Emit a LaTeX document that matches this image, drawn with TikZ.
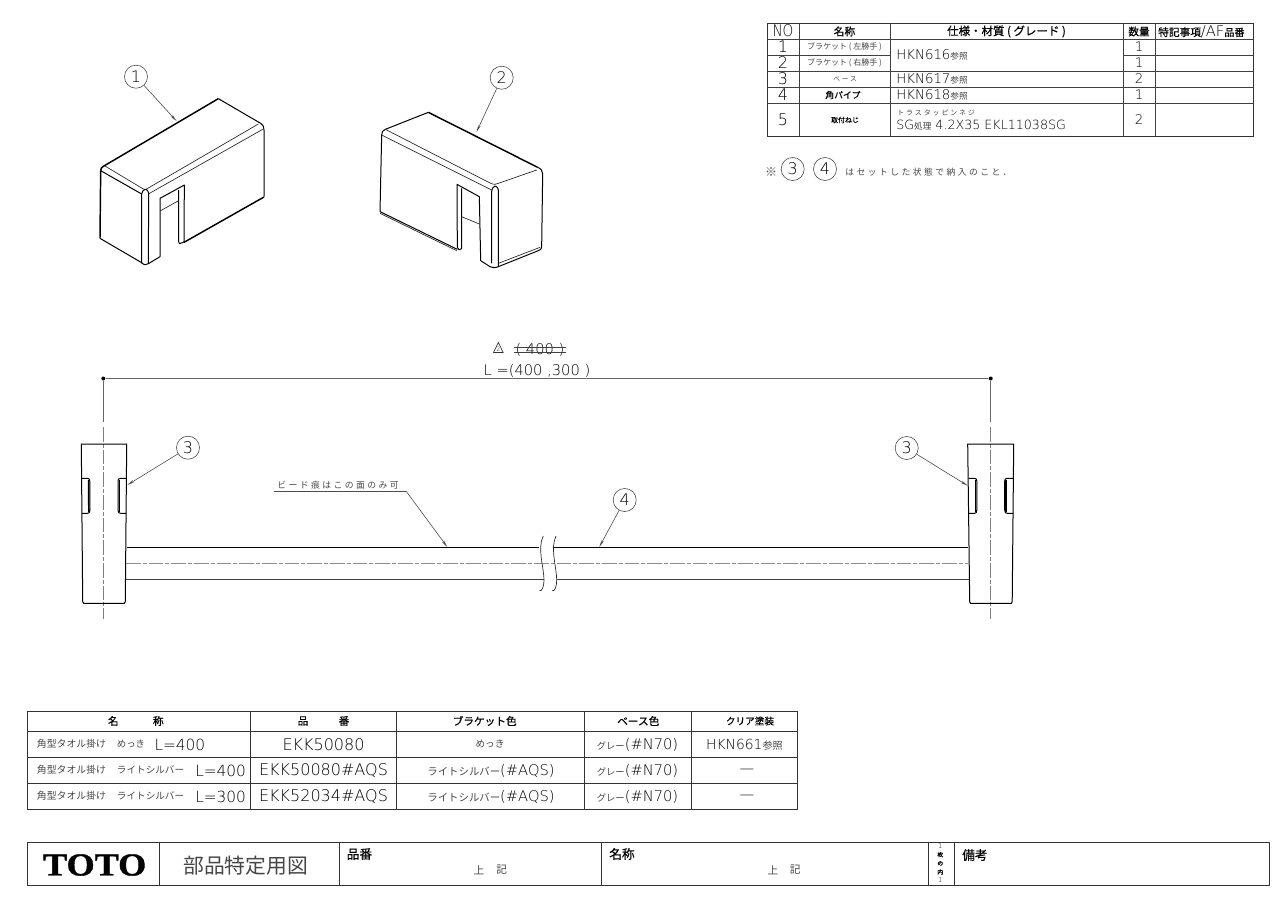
\documentclass[tikz,border=0pt]{standalone}
\usepackage{fontspec}
\usepackage{graphicx}
\usetikzlibrary{arrows.meta}
\setmainfont{DejaVu Sans ExtraLight}
\newfontfamily\cadf{DejaVu Sans ExtraLight}
\newfontfamily\cjkf{Noto Sans CJK JP}
\newfontfamily\cjkm[FakeBold=0.5]{Noto Sans CJK JP}
\newfontfamily\cjks[LetterSpace=28]{Noto Sans CJK JP}
\newfontfamily\logof[FakeBold=1]{Liberation Serif Bold}
\newcommand\fL[2]{{\cadf\fontsize{#1}{#1}\selectfont #2}}
\newcommand\fJ[2]{{\color{black!72}\cjkf\fontsize{#1}{#1}\selectfont #2}}
\newcommand\fS[2]{{\color{black!72}\cjks\fontsize{#1}{#1}\selectfont #2}}
\newcommand\fB[2]{{\color{black}\cjkm\fontsize{#1}{#1}\selectfont #2}}
\newcounter{nn}
\newcommand\TT[4][]{\stepcounter{nn}\node[inner sep=0pt,#1] (n\thenn) at (#2,#3) {#4};}
\tikzset{
  grid/.style={line width=.75pt,draw=black!80},
  gridf/.style={line width=.55pt,draw=black!75},
  outl/.style={line width=.75pt,draw=black,line join=round},
  outt/.style={line width=1.1pt,draw=black,line join=round},
  inl/.style={line width=.5pt,draw=black!85},
  cent/.style={line width=.55pt,draw=black!50,dash pattern=on 11pt off 1.5pt on 3pt off 1.5pt},
  dimn/.style={line width=.6pt,draw=black!60},
  leader/.style={line width=.45pt,draw=black!70,-{Stealth[length=5.5pt,width=1.9pt]}},
  numc/.style={circle,draw=black!70,line width=.45pt,minimum size=17.3pt,inner sep=0pt,font=\cadf\fontsize{12}{12}\selectfont},
  dotn/.style={circle,fill=black,inner sep=0pt,minimum size=3pt},
}
\begin{document}
\begin{tikzpicture}[x=.75pt,y=-.75pt]
\fill[white] (0,0) rectangle (1282,897);
\useasboundingbox (0,0) rectangle (1282,897);

% ---------- parts table
\draw[grid] (767,23) rectangle (1253,136);
\draw[gridf] (767,39) -- (1253,39) (767,55) -- (890,55) (1123,55) -- (1253,55)
  (767,71) -- (1253,71) (767,87) -- (1253,87) (767,103) -- (1253,103);
\draw[gridf] (799,23) -- (799,136) (890,23) -- (890,136) (1123,23) -- (1123,136) (1155,23) -- (1155,136);
\TT{783}{31}{\scalebox{.85}[1]{\fL{12}{NO}}}
\TT{844.5}{31.5}{\fB{8}{名称}}
\TT{1006.5}{31.5}{\fB{8.6}{仕様・材質 ( グレード )}}
\TT{1139}{31.5}{\fB{8}{数量}}
\TT[anchor=west]{1158}{31.5}{\fB{8}{特記事項}\fL{11}{/AF}\fB{7.6}{品番}}
\TT{783}{47}{\fL{12}{1}}
\TT{783}{63}{\fL{12}{2}}
\TT{783}{79}{\fL{12}{3}}
\TT{783}{95}{\fL{12}{4}}
\TT{783}{120}{\fL{12}{5}}
\TT{844.5}{47}{\fJ{6}{ブラケット ( 左勝手 )}}
\TT{844.5}{63}{\fJ{6}{ブラケット ( 右勝手 )}}
\TT{845}{79}{\fS{5}{ベース}}
\TT{843}{95}{\fB{6.6}{角パイプ}}
\TT{845}{120}{\fB{5.2}{取付ねじ}}
\TT[anchor=west]{896}{55}{\fL{10}{HKN616}\fJ{6.5}{参照}}
\TT[anchor=west]{896}{79}{\fL{10}{HKN617}\fJ{6.5}{参照}}
\TT[anchor=west]{896}{95}{\fL{10}{HKN618}\fJ{6.5}{参照}}
\TT[anchor=west]{897}{113}{\fS{5.2}{トラスタッピンネジ}}
\TT[anchor=west]{896}{125}{\fL{9.5}{SG}\fJ{6.5}{処理}\fL{9.5}{ 4.2X35 EKL11038SG}}
\TT{1139}{47}{\fL{10}{1}}
\TT{1139}{63}{\fL{10}{1}}
\TT{1139}{79}{\fL{10}{2}}
\TT{1139}{95}{\fL{10}{1}}
\TT{1139}{120}{\fL{10}{2}}

% ---------- note
\TT{771}{172}{\fJ{9}{※}}
\node[numc] (nc3) at (792.7,169) {3};
\node[numc] (nc4) at (825,169) {4};
\TT[anchor=west]{845}{172}{\fS{6.6}{はセットした状態で納入のこと．}}

% ---------- part 1
\begin{scope}[shift={(80,50)},x=.25pt,y=-.25pt]
\draw[outt] (62,362) -- (60,565);
\draw[outl] (60,565) -- (185,638) .. controls (192,646) and (200,646) .. (207,640) -- (240,620) -- (240,445) -- (313,405) -- (312,576) -- (298,581) -- (296,575) -- (296,420);
\draw[outt] (62,362) .. controls (62,355) and (65,352) .. (70,349) -- (415,146);
\draw[outl] (415,146) -- (542,220) .. controls (549,224) and (552,230) .. (552,240) -- (552,440);
\draw[outt] (552,441) -- (312,577);
\draw[outl] (62,362) -- (185,432);
\draw[inl] (75,348) -- (185,414) .. controls (195,420) and (198,420) .. (205,414) -- (535,222);
\draw[inl] (205,432) -- (548,238);
\draw[outl] (185,640) -- (185,432) .. controls (186,424) and (190,420) .. (195,418) (205,640) -- (206,430) .. controls (205,424) and (203,420) .. (198,418);
\draw[inl] (240,483) -- (296,452);
\end{scope}
\node[numc] (c1) at (136,76.7) {1};
\coordinate (t1) at (176.5,121);
\draw[leader] (c1) -- (t1);

% ---------- part 2
\begin{scope}[shift={(360,50)},x=.25pt,y=-.25pt]
\draw[outl] (65,255) .. controls (65,246) and (68,241) .. (76,238) -- (205,187);
\draw[outt] (205,187) -- (533,352);
\draw[outl] (533,352) .. controls (543,356) and (548,362) .. (548,372) -- (545,590) .. controls (545,596) and (542,600) .. (535,602) -- (415,650) .. controls (405,654) and (398,654) .. (390,650) -- (362,632) -- (358,440) -- (291,403) -- (292,592) .. controls (293,600) and (300,602) .. (305,596) -- (305,415);
\draw[outl] (65,255) -- (60,485) -- (292,598);
\draw[inl] (60,490) -- (290,602) (415,640) -- (540,592);
\draw[inl] (65,255) -- (395,420);
\draw[inl] (76,238) -- (392,400) .. controls (402,404) and (408,404) .. (415,400) -- (530,360);
\draw[outl] (395,640) -- (395,425) .. controls (396,415) and (400,410) .. (405,408) (415,650) -- (415,420) .. controls (415,414) and (412,410) .. (405,408);
\draw[inl] (305,500) -- (358,522);
\end{scope}
\node[numc] (c2) at (501.7,77.7) {2};
\coordinate (t2) at (476.5,132);
\draw[leader] (c2) -- (t2);

% ---------- dimension
\node[dotn] (d1) at (103.3,378.5) {};
\node[dotn] (d2) at (990.7,378.5) {};
\draw[dimn] (d1) -- (d2);
\draw[dimn] (d1) -- (103.3,422);
\draw[dimn] (d2) -- (990.7,422);
\draw[cent] (103.3,427) -- (103.3,619);
\draw[cent] (990.7,427) -- (990.7,619);
\TT{537}{370.5}{\fL{11}{L =(400 ,300 )}}
\TT{540}{349.5}{\fL{11}{( 400 )}}
\draw[line width=.5pt,draw=black!75] (514.3,347.7) -- (566,347.7) (514.3,352.3) -- (566,352.3);
\draw[line width=.5pt,draw=black!80] (498.3,342.5) -- (493.5,352.5) -- (503.2,352.5) -- cycle;
\TT{498.3}{349.3}{\fL{4.5}{2}}

% ---------- left base
\draw[outl] (81.3,444) -- (126.7,444) -- (125.3,601.5) -- (124.5,603.3) -- (83.5,603.3) -- (82.7,601.5) -- cycle;
\draw[outl] (81.5,478.3) -- (87.5,478.3) .. controls (89.3,478.3) and (89.7,479.5) .. (89.8,481) -- (90,510) .. controls (90,512.5) and (89,513.3) .. (87.5,513.3) -- (82,513.3);
\draw[outt] (88.5,480) -- (88.8,512);
\draw[outl] (126.5,478.3) -- (120.5,478.3) .. controls (118.5,478.3) and (118,479.5) .. (118,481) -- (118,510) .. controls (118,512.5) and (119,513.3) .. (120.5,513.3) -- (126,513.3);
\draw[outt] (119.3,480) -- (119.3,512);
% ---------- right base
\draw[outl] (967.7,444) -- (1013.7,444) -- (1012.2,601.5) -- (1011.5,603.3) -- (970.5,603.3) -- (969.7,601.5) -- cycle;
\draw[outl] (968.5,478.3) -- (974.5,478.3) .. controls (976.3,478.3) and (976.7,479.5) .. (976.8,481) -- (976.8,510) .. controls (976.8,512.5) and (976,513.3) .. (974.5,513.3) -- (969,513.3);
\draw[outt] (975.5,480) -- (975.5,512);
\draw[outl] (1013.5,478.3) -- (1007.2,478.3) .. controls (1005.2,478.3) and (1004.7,479.5) .. (1004.7,481) -- (1004.7,510) .. controls (1004.7,512.5) and (1005.7,513.3) .. (1007.2,513.3) -- (1013,513.3);
\draw[outt] (1006,480) -- (1006,512);

% ---------- rail
\draw[outl] (126.5,547.3) -- (539.3,547.3) (552.7,547.3) -- (968,547.3);
\draw[outl,draw=black!75] (125.5,579.5) -- (544,579.5) (557,579.5) -- (968.5,579.5);
\draw[cent,draw=black!45] (126,563.3) -- (968,563.3);
\draw[inl] (543.3,536) .. controls (537,548) and (544,568) .. (544,580) .. controls (544,586) and (542,592) .. (539.3,590.7);
\draw[inl] (556,536) .. controls (550,548) and (556.7,568) .. (556.7,580) .. controls (556.7,586) and (555,592) .. (552,590.7);

% ---------- balloons
\node[numc] (c3l) at (188,447.7) {3};
\coordinate (t3l) at (127.3,485);
\draw[leader] (c3l) -- (t3l);
\node[numc] (c3r) at (906.7,448) {3};
\coordinate (t3r) at (967.7,485.7);
\draw[leader] (c3r) -- (t3r);
\node[numc] (c4b) at (624.7,500) {4};
\coordinate (t4) at (599.3,547);
\draw[leader] (c4b) -- (t4);
\node[inner sep=0pt,anchor=south west] (bead) at (277,489.5) {\fS{6.6}{ビード痕はこの面のみ可}};
\coordinate (bl) at (274,491);
\coordinate (br) at (406,491);
\coordinate (t5) at (447.3,547);
\draw[line width=.45pt,draw=black!70] (bl) -- (br);
\draw[leader] (br) -- (t5);

% ---------- product table
\draw[grid] (27.3,711.7) rectangle (797.3,809);
\draw[grid] (27.3,731) -- (797.3,731) (27.3,757) -- (797.3,757) (27.3,783) -- (797.3,783);
\draw[grid] (250.7,711.7) -- (250.7,809) (396,711.7) -- (396,809) (584.3,711.7) -- (584.3,809) (691.7,711.7) -- (691.7,809);
\TT{113.3}{721}{\fB{8}{名}}
\TT{158.3}{721}{\fB{8}{称}}
\TT{303}{721}{\fB{8}{品}}
\TT{344}{721}{\fB{8}{番}}
\TT{484.7}{721}{\fB{8}{ブラケット色}}
\TT{638.3}{721}{\fB{8}{ベース色}}
\TT{750}{721}{\fB{7.2}{クリア塗装}}
\TT[anchor=west]{36.7}{744}{\fJ{7.4}{角型タオル掛け}}
\TT[anchor=west]{116.7}{744}{\fJ{7}{めっき}}
\TT[anchor=west]{154.3}{745}{\fL{11.5}{L=400}}
\TT[anchor=west]{36.7}{770}{\fJ{7.4}{角型タオル掛け}}
\TT[anchor=west]{116.7}{770}{\fJ{7.2}{ライトシルバー}}
\TT[anchor=west]{195}{771}{\fL{11.5}{L=400}}
\TT[anchor=west]{36.7}{796}{\fJ{7.4}{角型タオル掛け}}
\TT[anchor=west]{116.7}{796}{\fJ{7.2}{ライトシルバー}}
\TT[anchor=west]{195}{797}{\fL{11.5}{L=300}}
\TT{323.5}{745}{\fL{12}{EKK50080}}
\TT{323.5}{771}{\fL{12}{EKK50080\#AQS}}
\TT{323.5}{797}{\fL{12}{EKK52034\#AQS}}
\TT{490}{744}{\fJ{7.2}{めっき}}
\TT{491}{771}{\fJ{7.8}{ライトシルバー}\fL{11}{(\#AQS)}}
\TT{491}{797}{\fJ{7.8}{ライトシルバー}\fL{11}{(\#AQS)}}
\TT{637.5}{745}{\fJ{7}{グレー}\fL{11}{(\#N70)}}
\TT{637.5}{771}{\fJ{7}{グレー}\fL{11}{(\#N70)}}
\TT{637.5}{797}{\fJ{7}{グレー}\fL{11}{(\#N70)}}
\TT{744.5}{745}{\fL{10.4}{HKN661}\fJ{7.6}{参照}}
\TT{747}{771}{\fL{11}{—}}
\TT{747}{797}{\fL{11}{—}}

% ---------- title block
\draw[grid] (27.3,842.3) rectangle (1269.5,885);
\draw[grid] (159.3,842.3) -- (159.3,885) (339.3,842.3) -- (339.3,885) (601,842.3) -- (601,885) (928.3,842.3) -- (928.3,885) (954.7,842.3) -- (954.7,885);
\TT{94.7}{865}{\scalebox{1.13}[1]{\logof\fontsize{24}{24}\selectfont TOTO}}
\TT{245.7}{866}{\fJ{15.6}{部品特定用図}}
\TT[anchor=west]{346.5}{854}{\fB{9.5}{品番}}
\TT{479}{870}{\fJ{8}{上}}
\TT{501.7}{870}{\fJ{8}{記}}
\TT[anchor=west]{609}{854}{\fB{9.5}{名称}}
\TT{773}{870}{\fJ{8}{上}}
\TT{795.3}{870}{\fJ{8}{記}}
\TT{940.3}{846}{\fL{5}{1}}
\TT{940.3}{854.5}{\fB{4.4}{枚}}
\TT{940.3}{863.5}{\fB{4.4}{の}}
\TT{940.3}{872}{\fB{4.4}{内}}
\TT{940.3}{880}{\fL{5}{1}}
\TT[anchor=west]{962}{855}{\fB{9.5}{備考}}
\end{tikzpicture}
\end{document}
